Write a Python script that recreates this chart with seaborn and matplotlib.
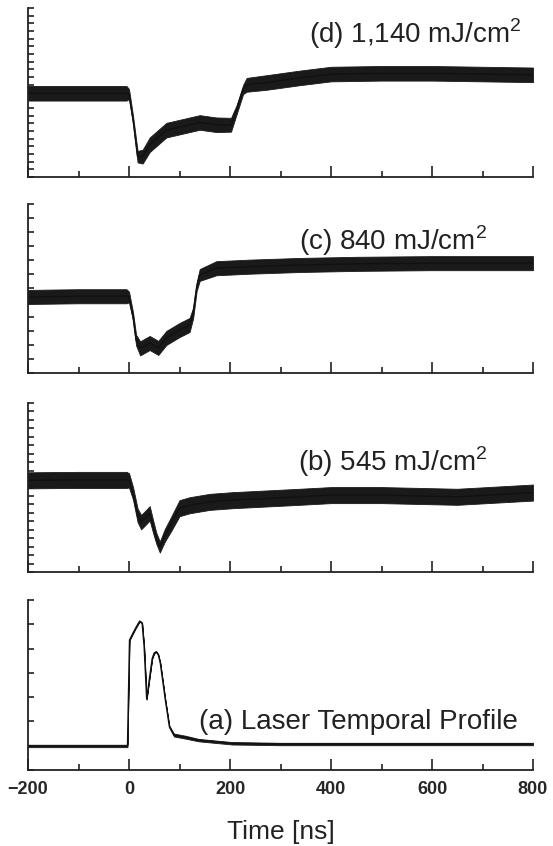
import numpy as np
import pandas as pd
import matplotlib
matplotlib.use('Agg')
import matplotlib.pyplot as plt
from matplotlib.ticker import MultipleLocator
import seaborn as sns

# traces, y in tick-interval units of each panel
# spread = typical half-width of the noise band
# (d) 1,140 mJ/cm2
d_time = [-200, -100, -5, 0, 8, 17, 27, 41, 74, 107, 140, 173, 202, 213, 226, 233, 272, 338, 400, 500, 600, 700, 800]
d_level = [10.9, 10.9, 10.9, 10.8, 7.45, 2.65, 2.65, 4.2, 6.1, 6.6, 7.1, 6.8, 6.8, 8.75, 11.4, 12.0, 12.3, 12.9, 13.4, 13.5, 13.5, 13.4, 13.3]
d_spread = [0.95, 0.95, 0.95, 0.65, 0.5, 0.75, 0.9, 0.95, 0.95, 0.95, 0.95, 0.95, 0.9, 0.6, 0.6, 0.9, 0.95, 0.95, 0.95, 0.95, 0.95, 0.95, 0.95]

# (c) 840 mJ/cm2
c_time = [-200, -100, -5, 0, 8, 14, 22, 41, 58, 74, 100, 120, 127, 134, 140, 173, 239, 338, 450, 600, 800]
c_level = [5.4, 5.45, 5.45, 5.4, 4.0, 2.34, 1.75, 2.13, 1.78, 2.49, 3.05, 3.41, 4.26, 6.13, 6.96, 7.44, 7.55, 7.67, 7.75, 7.8, 7.8]
c_spread = [0.5, 0.5, 0.5, 0.38, 0.3, 0.38, 0.5, 0.5, 0.5, 0.5, 0.5, 0.5, 0.38, 0.3, 0.42, 0.5, 0.5, 0.5, 0.5, 0.5, 0.5]

# (b) 545 mJ/cm2
b_time = [-200, -100, -5, 0, 8, 17, 24, 34, 41, 48, 54, 58, 61, 71, 84, 100, 120, 160, 206, 272, 338, 400, 500, 650, 800]
b_level = [10.85, 10.9, 10.9, 10.85, 9.3, 6.7, 5.9, 6.5, 6.95, 5.3, 4.0, 3.4, 2.95, 4.35, 5.75, 7.55, 7.9, 8.3, 8.5, 8.7, 8.9, 9.1, 9.1, 8.9, 9.4]
b_spread = [0.95, 0.95, 0.95, 0.85, 0.75, 0.8, 0.85, 0.85, 0.85, 0.75, 0.65, 0.65, 0.65, 0.75, 0.85, 0.95, 0.95, 0.95, 0.95, 0.95, 0.95, 0.95, 0.95, 0.95, 0.95]

# (a) laser temporal profile
a_time = [-200, -3, 1, 6, 13, 21, 26, 30, 35, 40, 46, 50, 54, 58, 62, 72, 80, 89, 112, 138, 204, 300, 800]
a_level = [0.99, 0.99, 5.35, 5.56, 5.84, 6.13, 6.05, 5.07, 2.92, 3.7, 4.6, 4.82, 4.87, 4.75, 4.4, 2.88, 1.78, 1.44, 1.35, 1.23, 1.1, 1.07, 1.07]
a_spread = [0.05, 0.05, 0.02, 0.02, 0.02, 0.02, 0.02, 0.02, 0.02, 0.02, 0.02, 0.02, 0.02, 0.02, 0.02, 0.02, 0.04, 0.06, 0.06, 0.05, 0.05, 0.05, 0.05]

panel_labels = ['(d) 1,140 mJ/cm$^2$', '(c) 840 mJ/cm$^2$', '(b) 545 mJ/cm$^2$', '(a) Laser Temporal Profile']
label_time = [778, 708, 710, 770]
label_level = [17.5, 8.7, 12.0, 1.7]
panel_top = [22, 12, 20, 7]

sns.set_theme(style='ticks')
plt.rcParams['font.family'] = ['Liberation Sans', 'DejaVu Sans']
plt.rcParams['mathtext.fontset'] = 'custom'
plt.rcParams['mathtext.rm'] = 'Liberation Sans'

traces = [(d_time, d_level, d_spread), (c_time, c_level, c_spread),
          (b_time, b_level, b_spread), (a_time, a_level, a_spread)]

fig = plt.figure(figsize=(5.53, 8.46), dpi=100)
# panel boxes in pixels (top, bottom)
boxes = [(8, 177), (204, 373), (403, 572), (600, 770)]
left, right = 28, 533

axes = []
for i, ((t, v, s), (top, bot)) in enumerate(zip(traces, boxes)):
    ax = fig.add_axes([left / 553, (846 - bot) / 846, (right - left) / 553, (bot - top) / 846])
    df = pd.DataFrame({'time': t, 'level': v, 'spread': s})
    # noise band around the trace
    ax.fill_between(df['time'], df['level'] - df['spread'], df['level'] + df['spread'],
                    color='#1a1a1a', linewidth=0.6, edgecolor='#1a1a1a')
    sns.lineplot(data=df, x='time', y='level', ax=ax, color='#111111', linewidth=1.0)
    ax.set_xlim(-200, 800)
    ax.set_ylim(0, panel_top[i])
    ax.xaxis.set_major_locator(MultipleLocator(200))
    ax.xaxis.set_minor_locator(MultipleLocator(100))
    ax.yaxis.set_major_locator(MultipleLocator(1))
    ax.tick_params(axis='x', which='major', direction='in', length=8, width=1.2, color='#222222')
    ax.tick_params(axis='x', which='minor', direction='in', length=4.5, width=1.2, color='#222222')
    ax.tick_params(axis='y', which='major', direction='in', length=4.5, width=1.2, color='#222222',
                   labelleft=False)
    for side in ['top', 'right']:
        ax.spines[side].set_visible(False)
    for side in ['left', 'bottom']:
        ax.spines[side].set_linewidth(1.3)
        ax.spines[side].set_color('#222222')
    ax.set_ylabel('')
    ax.set_xlabel('')
    ax.text(label_time[i], label_level[i], panel_labels[i], ha='right', va='baseline',
            fontsize=20, color='#222222')
    if i < 3:
        ax.tick_params(axis='x', labelbottom=False)
    axes.append(ax)

ax = axes[-1]
ax.tick_params(axis='x', pad=8, labelsize=13)
for lab in ax.get_xticklabels():
    lab.set_fontweight('bold')
ax.set_xlabel('Time [ns]', fontsize=19, labelpad=16, color='#222222')

fig.savefig('out.png', dpi=100)
